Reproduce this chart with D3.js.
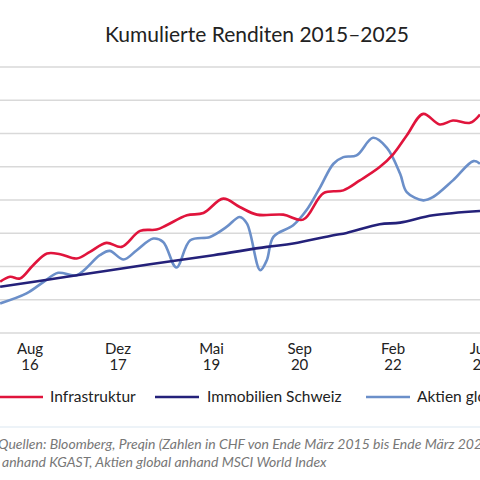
<!DOCTYPE html>
<html><head><meta charset="utf-8">
<script src="https://cdn.jsdelivr.net/npm/d3@7"></script>
<style>body{margin:0;background:#fff}svg{display:block;font-family:Lato,"Noto Sans",sans-serif}</style>
</head><body><svg id="c" width="480" height="480"></svg>
<script>
// years as decimal, values as index
var infraYears = [2016.13,2016.28,2016.43,2016.63,2016.84,2017.04,2017.29,2017.49,2017.74,2017.97,2018.25,2018.50,2018.65,2018.96,2019.21,2019.51,2019.76,2020.02,2020.42,2020.72,2021.03,2021.33,2021.58,2021.88,2022.09,2022.29,2022.54,2022.79,2022.99,2023.25,2023.40];
var infraVals = [110.8,113.8,112.8,120.8,127.8,127.4,124.8,128.8,134.2,131.8,141.4,142.2,144.8,150.8,152.2,160.8,155.8,151.2,151.2,148.2,164.2,165.8,171.8,179.8,187.8,198.8,211.8,205.4,207.8,206.4,211.4];
var aktienYears = [2016.13,2016.53,2016.79,2017.01,2017.29,2017.64,2017.79,2018.00,2018.20,2018.45,2018.60,2018.80,2019.01,2019.31,2019.56,2019.76,2019.87,2020.07,2020.17,2020.27,2020.57,2020.77,2020.98,2021.18,2021.33,2021.53,2021.78,2021.99,2022.19,2022.29,2022.54,2022.69,2022.99,2023.30,2023.40];
var aktienVals = [97.8,103.8,110.8,116.2,114.8,126.8,129.4,124.2,129.8,136.8,134.8,119.4,135.8,137.8,143.8,149.8,145.8,117.8,123.8,137.8,144.8,153.8,167.8,181.8,185.8,186.8,197.4,191.4,175.8,164.8,159.8,161.8,171.8,183.4,181.8];
var immoYears = [2016.13,2017.14,2018.40,2019.36,2020.17,2020.57,2021.18,2021.38,2021.88,2022.19,2022.69,2023.40];
var immoVals = [107.8,113.8,121.4,126.8,131.8,133.8,138.8,140.2,145.4,146.4,150.8,153.4];
var tickYears = [2016.583,2017.917,2019.333,2020.667,2022.083,2023.417];
var tickTop = ["Aug","Dez","Mai","Sep","Feb","Jun"];
var tickBottom = ["16","17","19","20","22","23"];
var gridVals = [80,100,120,140,160,180,200,220,240];

var svg = d3.select("#c");
var x = d3.scaleLinear().domain([2016.128, 2023.40]).range([0, 480]);
var y = d3.scaleLinear().domain([80, 240]).range([333, 67]);

svg.append("text").attr("x", 257).attr("y", 42).attr("text-anchor", "middle")
  .attr("font-size", 21).attr("fill", "#222").text("Kumulierte Renditen 2015–2025");

svg.selectAll(".grid").data(gridVals).enter().append("line")
  .attr("x1", 0).attr("x2", 480).attr("y1", function(d){ return y(d); }).attr("y2", function(d){ return y(d); })
  .attr("stroke", "#d9d9d9").attr("stroke-width", 1.3);

svg.selectAll(".t1").data(tickYears).enter().append("text")
  .attr("text-anchor", "middle").attr("font-size", 15).attr("fill", "#222")
  .attr("x", function(d){ return x(d); }).attr("y", 354).text(function(d, i){ return tickTop[i]; });
svg.selectAll(".t2").data(tickYears).enter().append("text")
  .attr("text-anchor", "middle").attr("font-size", 15).attr("fill", "#222")
  .attr("x", function(d){ return x(d); }).attr("y", 370).text(function(d, i){ return tickBottom[i]; });

var line = d3.line().curve(d3.curveCatmullRom.alpha(0.5))
  .x(function(d){ return x(d[0]); }).y(function(d){ return y(d[1]); });

var series = [
  {years: aktienYears, vals: aktienVals, color: "#6b8fc9"},
  {years: immoYears, vals: immoVals, color: "#24217a"},
  {years: infraYears, vals: infraVals, color: "#e0143c"}
];
series.forEach(function(s){
  svg.append("path").datum(d3.zip(s.years, s.vals)).attr("d", line)
    .attr("fill", "none").attr("stroke", s.color).attr("stroke-width", 2.6);
});

var legend = [
  {label: "Infrastruktur", color: "#e0143c", x0: 0, x1: 43, tx: 50},
  {label: "Immobilien Schweiz", color: "#24217a", x0: 155, x1: 199, tx: 207},
  {label: "Aktien global", color: "#6b8fc9", x0: 366, x1: 410, tx: 417}
];
legend.forEach(function(l){
  svg.append("line").attr("x1", l.x0).attr("x2", l.x1).attr("y1", 397).attr("y2", 397)
    .attr("stroke", l.color).attr("stroke-width", 2.6);
  svg.append("text").attr("x", l.tx).attr("y", 402).attr("font-size", 15.5).attr("fill", "#222").text(l.label);
});

svg.append("line").attr("x1", 0).attr("x2", 480).attr("y1", 427).attr("y2", 427)
  .attr("stroke", "#dce8f2").attr("stroke-width", 1.2);
svg.append("text").attr("x", -2).attr("y", 449).attr("font-size", 14).attr("font-style", "italic").attr("fill", "#777")
  .text("Quellen: Bloomberg, Preqin (Zahlen in CHF von Ende März 2015 bis Ende März 2025), Immobilien Schweiz");
svg.append("text").attr("x", 2).attr("y", 467).attr("font-size", 14).attr("font-style", "italic").attr("fill", "#777")
  .text("anhand KGAST, Aktien global anhand MSCI World Index");
</script></body></html>
